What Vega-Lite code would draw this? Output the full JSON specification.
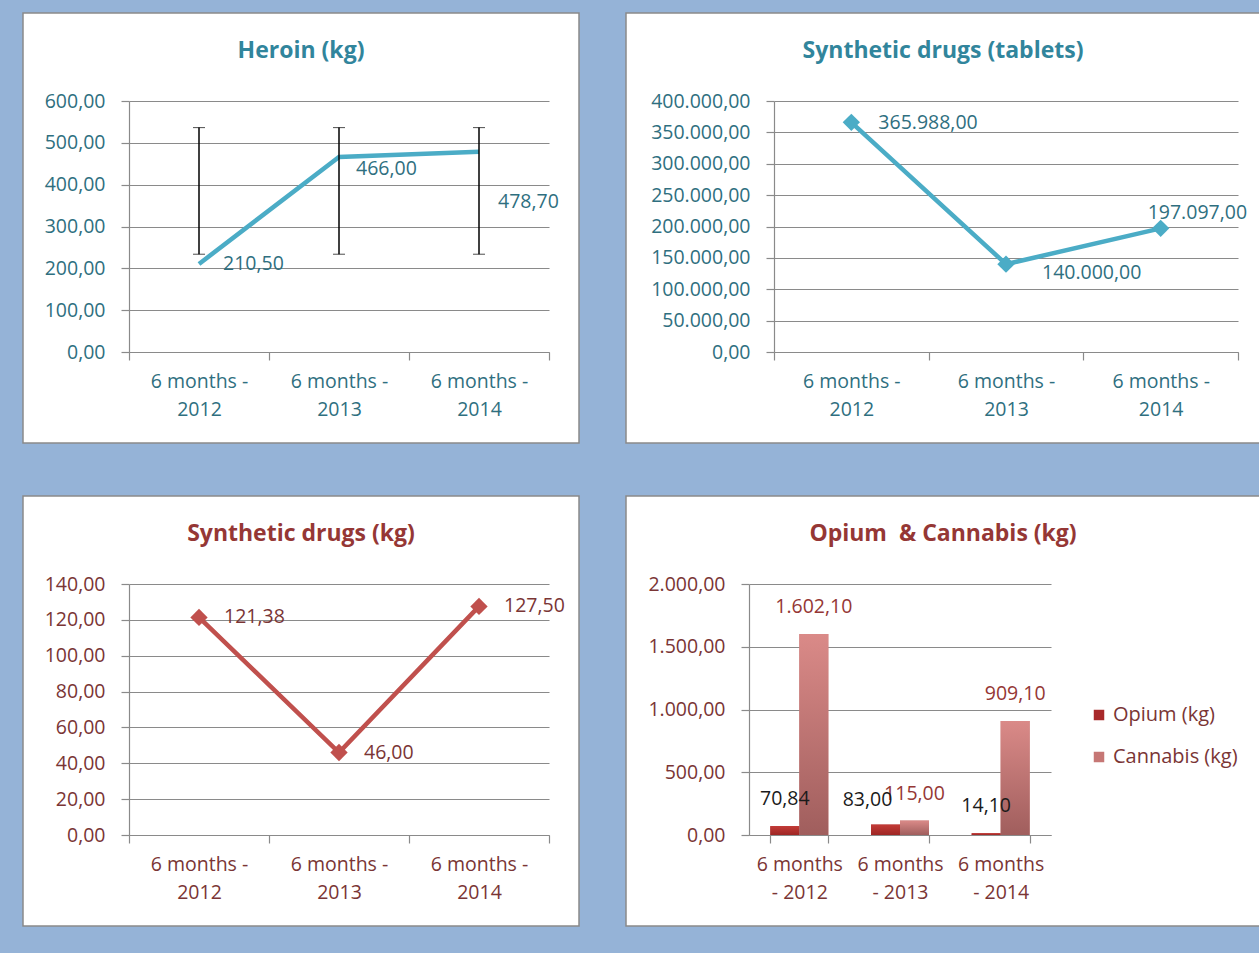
{
  "$schema": "https://vega.github.io/schema/vega-lite/v6.json",
  "background": "#95b3d7",
  "padding": {"left": 22, "top": 12, "right": 0, "bottom": 28},
  "config": {
    "locale": {"number": {"decimal": ",", "thousands": ".", "grouping": [3], "currency": ["", ""]}},
    "view": {"fill": "white", "stroke": "#8a8a8a", "strokeWidth": 1.5},
    "font": "Open Sans",
    "axis": {"domainColor": "#8a8a8a", "domainWidth": 1.2, "tickColor": "#8a8a8a", "tickWidth": 1.2, "tickSize": 8, "gridColor": "#8a8a8a", "gridWidth": 1.2, "gridOpacity": 1, "labelFont": "Open Sans", "labelFontSize": 19.5, "title": null},
    "axisY": {"labelPadding": 16},
    "axisX": {"tickBand": "extent", "labelPadding": 12, "labelLineHeight": 28, "grid": false, "labelAngle": 0},
    "text": {"font": "Open Sans", "fontSize": 19.5}
  },
  "bounds": "flush",
  "columns": 2,
  "spacing": {"row": 53, "column": 47},
  "concat": [
    {
      "width": 556, "height": 430,
      "title": {"text": "Heroin (kg)", "color": "#31859c", "fontSize": 23, "font": "Open Sans", "fontWeight": "bold", "anchor": "middle", "frame": "group", "baseline": "middle", "offset": -61},
      "data": {"values": [
        {"period": "6 months - 2012", "value": 210.5, "label": "210,50", "lo": 233.76, "hi": 536.38},
        {"period": "6 months - 2013", "value": 466.0, "label": "466,00", "lo": 233.76, "hi": 536.38},
        {"period": "6 months - 2014", "value": 478.7, "label": "478,70", "lo": 233.76, "hi": 536.38}
      ]},
      "layer": [
        {
          "mark": {"type": "line", "color": "#4bacc6", "strokeWidth": 4.5},
          "encoding": {
            "x": {"field": "period", "type": "nominal", "sort": null, "title": null,
                  "scale": {"type": "band", "range": [106, 526], "paddingInner": 0, "paddingOuter": 0},
                  "axis": {"offset": -91, "labelColor": "#2f6f7f", "labelExpr": "length(datum.label) > 0 ? [slice(datum.label, 0, 10), slice(datum.label, 11)] : ''"}},
            "y": {"field": "value", "type": "quantitative", "title": null,
                  "scale": {"domain": [0, 600], "range": [339, 88], "nice": false},
                  "axis": {"offset": -106, "labelColor": "#2f6f7f", "values": [0, 100, 200, 300, 400, 500, 600], "format": ",.2f"}}
          }
        },
        {
          "mark": {"type": "errorbar", "ticks": {"size": 12, "color": "black", "strokeWidth": 1.5}, "rule": {"color": "black", "strokeWidth": 1.5}},
          "encoding": {
            "x": {"field": "period", "type": "nominal", "sort": null, "title": null},
            "y": {"field": "lo", "type": "quantitative", "title": null},
            "y2": {"field": "hi"}
          }
        },
        {
          "transform": [{"filter": "datum.period == '6 months - 2012'"}],
          "mark": {"type": "text", "align": "left", "baseline": "middle", "dx": 24, "dy": 0, "color": "#2f6f7f"},
          "encoding": {"x": {"field": "period", "type": "nominal", "sort": null}, "y": {"field": "value", "type": "quantitative", "title": null}, "text": {"field": "label"}}
        },
        {
          "transform": [{"filter": "datum.period == '6 months - 2013'"}],
          "mark": {"type": "text", "align": "left", "baseline": "middle", "dx": 17, "dy": 12, "color": "#2f6f7f"},
          "encoding": {"x": {"field": "period", "type": "nominal", "sort": null}, "y": {"field": "value", "type": "quantitative", "title": null}, "text": {"field": "label"}}
        },
        {
          "transform": [{"filter": "datum.period == '6 months - 2014'"}],
          "mark": {"type": "text", "align": "left", "baseline": "middle", "dx": 19, "dy": 50, "color": "#2f6f7f"},
          "encoding": {"x": {"field": "period", "type": "nominal", "sort": null}, "y": {"field": "value", "type": "quantitative", "title": null}, "text": {"field": "label"}}
        }
      ]
    },
    {
      "width": 634, "height": 430,
      "title": {"text": "Synthetic drugs (tablets)", "color": "#31859c", "fontSize": 23, "font": "Open Sans", "fontWeight": "bold", "anchor": "middle", "frame": "group", "baseline": "middle", "offset": -61},
      "data": {"values": [
        {"period": "6 months - 2012", "value": 365988, "label": "365.988,00"},
        {"period": "6 months - 2013", "value": 140000, "label": "140.000,00"},
        {"period": "6 months - 2014", "value": 197097, "label": "197.097,00"}
      ]},
      "layer": [
        {
          "mark": {"type": "line", "color": "#4bacc6", "strokeWidth": 4.5},
          "encoding": {
            "x": {"field": "period", "type": "nominal", "sort": null, "title": null,
                  "scale": {"type": "band", "range": [148, 612], "paddingInner": 0, "paddingOuter": 0},
                  "axis": {"offset": -91, "labelColor": "#2f6f7f", "labelExpr": "length(datum.label) > 0 ? [slice(datum.label, 0, 10), slice(datum.label, 11)] : ''"}},
            "y": {"field": "value", "type": "quantitative", "title": null,
                  "scale": {"domain": [0, 400000], "range": [339, 88], "nice": false},
                  "axis": {"offset": -148, "labelColor": "#2f6f7f", "values": [0, 50000, 100000, 150000, 200000, 250000, 300000, 350000, 400000], "format": ",.2f"}}
          }
        },
        {
          "mark": {"type": "point", "shape": "diamond", "filled": true, "opacity": 1, "size": 300, "color": "#4bacc6"},
          "encoding": {"x": {"field": "period", "type": "nominal", "sort": null}, "y": {"field": "value", "type": "quantitative", "title": null}}
        },
        {
          "transform": [{"filter": "datum.period == '6 months - 2012'"}],
          "mark": {"type": "text", "align": "left", "baseline": "middle", "dx": 27, "dy": 1, "color": "#2f6f7f"},
          "encoding": {"x": {"field": "period", "type": "nominal", "sort": null}, "y": {"field": "value", "type": "quantitative", "title": null}, "text": {"field": "label"}}
        },
        {
          "transform": [{"filter": "datum.period == '6 months - 2013'"}],
          "mark": {"type": "text", "align": "left", "baseline": "middle", "dx": 36, "dy": 9, "color": "#2f6f7f"},
          "encoding": {"x": {"field": "period", "type": "nominal", "sort": null}, "y": {"field": "value", "type": "quantitative", "title": null}, "text": {"field": "label"}}
        },
        {
          "transform": [{"filter": "datum.period == '6 months - 2014'"}],
          "mark": {"type": "text", "align": "left", "baseline": "middle", "dx": -13, "dy": -15, "color": "#2f6f7f"},
          "encoding": {"x": {"field": "period", "type": "nominal", "sort": null}, "y": {"field": "value", "type": "quantitative", "title": null}, "text": {"field": "label"}}
        }
      ]
    },
    {
      "width": 556, "height": 430,
      "title": {"text": "Synthetic drugs (kg)", "color": "#953735", "fontSize": 23, "font": "Open Sans", "fontWeight": "bold", "anchor": "middle", "frame": "group", "baseline": "middle", "offset": -61},
      "data": {"values": [
        {"period": "6 months - 2012", "value": 121.38, "label": "121,38"},
        {"period": "6 months - 2013", "value": 46.0, "label": "46,00"},
        {"period": "6 months - 2014", "value": 127.5, "label": "127,50"}
      ]},
      "layer": [
        {
          "mark": {"type": "line", "color": "#c0504d", "strokeWidth": 4.5},
          "encoding": {
            "x": {"field": "period", "type": "nominal", "sort": null, "title": null,
                  "scale": {"type": "band", "range": [106, 526], "paddingInner": 0, "paddingOuter": 0},
                  "axis": {"offset": -91, "labelColor": "#7a3535", "labelExpr": "length(datum.label) > 0 ? [slice(datum.label, 0, 10), slice(datum.label, 11)] : ''"}},
            "y": {"field": "value", "type": "quantitative", "title": null,
                  "scale": {"domain": [0, 140], "range": [339, 88], "nice": false},
                  "axis": {"offset": -106, "labelColor": "#7a3535", "values": [0, 20, 40, 60, 80, 100, 120, 140], "format": ",.2f"}}
          }
        },
        {
          "mark": {"type": "point", "shape": "diamond", "filled": true, "opacity": 1, "size": 300, "color": "#c0504d"},
          "encoding": {"x": {"field": "period", "type": "nominal", "sort": null}, "y": {"field": "value", "type": "quantitative", "title": null}}
        },
        {
          "mark": {"type": "text", "align": "left", "baseline": "middle", "dx": 25, "dy": 0, "color": "#7a3535"},
          "encoding": {"x": {"field": "period", "type": "nominal", "sort": null}, "y": {"field": "value", "type": "quantitative", "title": null}, "text": {"field": "label"}}
        }
      ]
    },
    {
      "width": 634, "height": 430,
      "title": {"text": "Opium\u00a0 & Cannabis (kg)", "color": "#953735", "fontSize": 23, "font": "Open Sans", "fontWeight": "bold", "anchor": "middle", "frame": "group", "baseline": "middle", "offset": -61},
      "data": {"values": [
        {"period": "6 months - 2012", "series": "Opium (kg)", "value": 70.84, "label": "70,84"},
        {"period": "6 months - 2012", "series": "Cannabis (kg)", "value": 1602.1, "label": "1.602,10"},
        {"period": "6 months - 2013", "series": "Opium (kg)", "value": 83.0, "label": "83,00"},
        {"period": "6 months - 2013", "series": "Cannabis (kg)", "value": 115.0, "label": "115,00"},
        {"period": "6 months - 2014", "series": "Opium (kg)", "value": 14.1, "label": "14,10"},
        {"period": "6 months - 2014", "series": "Cannabis (kg)", "value": 909.1, "label": "909,10"}
      ]},
      "layer": [
        {
          "mark": {"type": "bar"},
          "encoding": {
            "x": {"field": "period", "type": "nominal", "sort": null, "title": null,
                  "scale": {"type": "band", "range": [123, 425], "paddingInner": 0.424, "paddingOuter": 0.212},
                  "axis": {"offset": -91, "labelColor": "#7a3535", "labelExpr": "length(datum.label) > 0 ? [slice(datum.label, 0, 8), '- ' + slice(datum.label, 11)] : ''"}},
            "xOffset": {"field": "series", "type": "nominal", "sort": ["Opium (kg)", "Cannabis (kg)"]},
            "y": {"field": "value", "type": "quantitative", "title": null,
                  "scale": {"domain": [0, 2000], "range": [339, 88], "nice": false},
                  "axis": {"offset": -123, "labelColor": "#7a3535", "values": [0, 500, 1000, 1500, 2000], "format": ",.2f"}},
            "color": {"field": "series", "type": "nominal", "sort": ["Opium (kg)", "Cannabis (kg)"],
                      "scale": {"domain": ["Opium (kg)", "Cannabis (kg)"], "range": ["#a8292a", "#c67775"]},
                      "legend": {"orient": "none", "legendX": 1066, "legendY": 692, "title": null, "symbolType": "square", "symbolSize": 110, "symbolStrokeWidth": 0, "labelFontSize": 20, "labelFont": "Open Sans", "labelColor": "#7a3535", "rowPadding": 22, "labelOffset": 4, "padding": 0}}
          }
        },
        {
          "transform": [{"filter": "datum.series == 'Opium (kg)'"}],
          "mark": {"type": "bar", "fill": {"gradient": "linear", "x1": 0, "y1": 0, "x2": 0, "y2": 1, "stops": [{"offset": 0, "color": "#c33b37"}, {"offset": 1, "color": "#9e2624"}]}},
          "encoding": {
            "x": {"field": "period", "type": "nominal", "sort": null},
            "xOffset": {"field": "series", "type": "nominal", "sort": ["Opium (kg)", "Cannabis (kg)"]},
            "y": {"field": "value", "type": "quantitative", "title": null}
          }
        },
        {
          "transform": [{"filter": "datum.series == 'Cannabis (kg)'"}],
          "mark": {"type": "bar", "fill": {"gradient": "linear", "x1": 0, "y1": 0, "x2": 0, "y2": 1, "stops": [{"offset": 0, "color": "#da8a88"}, {"offset": 1, "color": "#a05e5d"}]}},
          "encoding": {
            "x": {"field": "period", "type": "nominal", "sort": null},
            "xOffset": {"field": "series", "type": "nominal", "sort": ["Opium (kg)", "Cannabis (kg)"]},
            "y": {"field": "value", "type": "quantitative", "title": null}
          }
        },
        {
          "transform": [{"filter": "datum.series == 'Cannabis (kg)'"}],
          "mark": {"type": "text", "align": "center", "baseline": "middle", "dy": -27, "color": "#953735"},
          "encoding": {
            "x": {"field": "period", "type": "nominal", "sort": null},
            "xOffset": {"field": "series", "type": "nominal", "sort": ["Opium (kg)", "Cannabis (kg)"]},
            "y": {"field": "value", "type": "quantitative", "title": null},
            "text": {"field": "label"}
          }
        },
        {
          "transform": [{"filter": "datum.series == 'Opium (kg)' && datum.period != '6 months - 2013'"}],
          "mark": {"type": "text", "align": "center", "baseline": "middle", "dy": -27, "color": "#1a1a1a"},
          "encoding": {
            "x": {"field": "period", "type": "nominal", "sort": null},
            "xOffset": {"field": "series", "type": "nominal", "sort": ["Opium (kg)", "Cannabis (kg)"]},
            "y": {"field": "value", "type": "quantitative", "title": null},
            "text": {"field": "label"}
          }
        },
        {
          "transform": [{"filter": "datum.series == 'Opium (kg)' && datum.period == '6 months - 2013'"}],
          "mark": {"type": "text", "align": "center", "baseline": "middle", "dx": -18, "dy": -25, "color": "#1a1a1a"},
          "encoding": {
            "x": {"field": "period", "type": "nominal", "sort": null},
            "xOffset": {"field": "series", "type": "nominal", "sort": ["Opium (kg)", "Cannabis (kg)"]},
            "y": {"field": "value", "type": "quantitative", "title": null},
            "text": {"field": "label"}
          }
        }
      ]
    }
  ]
}
